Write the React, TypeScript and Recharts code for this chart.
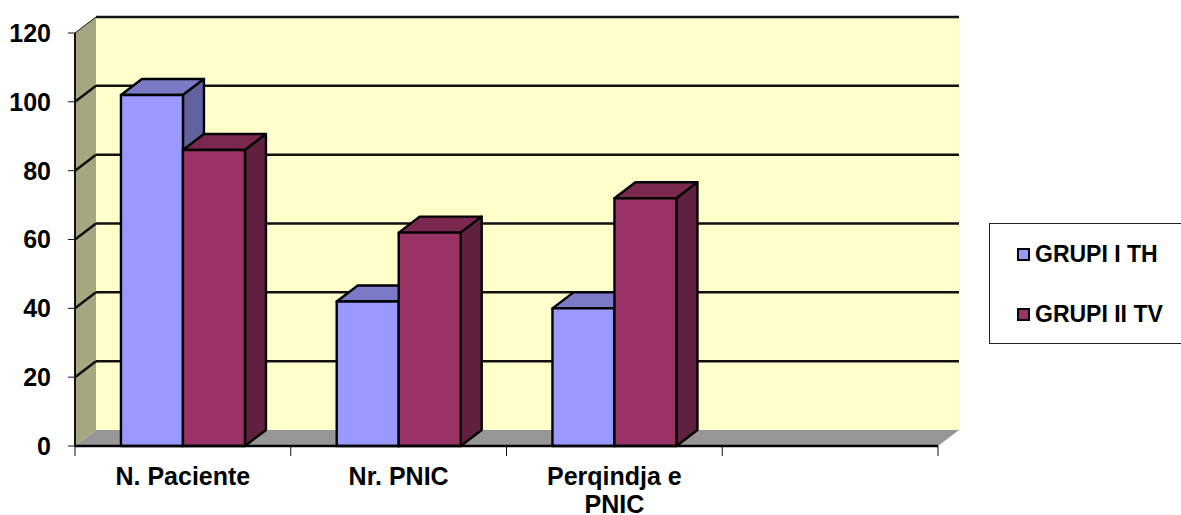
import React from 'react';
import { BarChart, Bar, XAxis, YAxis, CartesianGrid, Legend, ReferenceArea } from 'recharts';

const categories = ['N. Paciente', 'Nr. PNIC', 'Perqindja e PNIC', ''];
const grupiTH = [102, 42, 40, null];
const grupiTV = [86, 62, 72, null];
const yTicks = [0, 20, 40, 60, 80, 100, 120];

const data = categories.map((name, i) => ({ name, th: grupiTH[i], tv: grupiTV[i] }));

const FONT = '"Liberation Sans", Arial, sans-serif';
const DX = 21;
const DY = 16;
const BAND = 215.75;

const pts = (...p: number[][]) => p.map((q) => q.join(',')).join(' ');

// box with a lit top face and a darker side face
const Box3D = ({ x, y, width, height, fill, top, side }: any) => {
  if (!height) return null;
  const r = x + width;
  const b = y + height;
  return (
    <g stroke="#000" strokeWidth={2.4} strokeLinejoin="round">
      <polygon points={pts([x, y], [x + DX, y - DY], [r + DX, y - DY], [r, y])} fill={top} />
      <polygon points={pts([r, y], [r + DX, y - DY], [r + DX, b - DY], [r, b])} fill={side} />
      <rect x={x} y={y} width={width} height={height} fill={fill} />
    </g>
  );
};

// back wall, left wall and floor
const Walls = ({ x, y, width, height }: any) => {
  const r = x + width;
  const b = y + height;
  return (
    <g>
      <polygon points={pts([x + DX, y - DY], [r + DX, y - DY], [r + DX, b - DY], [x + DX, b - DY])} fill="#ffffcc" />
      <polygon points={pts([x, y], [x + DX, y - DY], [x + DX, b - DY], [x, b])} fill="#a6a680" />
      <polygon points={pts([x, b], [x + DX, b - DY], [r + DX, b - DY], [r, b])} fill="#969696" />
    </g>
  );
};

const GridLine = ({ x1, y1, x2, y2, index }: any) => {
  if (y1 >= 440) return <g key={index} />;
  return (
    <g key={index} fill="none">
      <line x1={x1} y1={y1} x2={x1 + DX} y2={y1 - DY} stroke="#111" strokeWidth={y1 < 40 ? 1 : 2.5} />
      <line x1={x1 + DX} y1={y1 - DY} x2={x2 + DX} y2={y2 - DY} stroke="#111" strokeWidth={2.5} />
    </g>
  );
};

const CategoryTick = ({ x, y, payload, index }: any) => {
  const words = String(payload.value);
  const lines = words === 'Perqindja e PNIC' ? ['Perqindja e', 'PNIC'] : [words];
  return (
    <g>
      <line x1={x - BAND / 2} y1={y - 8} x2={x - BAND / 2} y2={y + 2} stroke="#111" strokeWidth={1} />
      {index === categories.length - 1 && (
        <line x1={x + BAND / 2} y1={y - 8} x2={x + BAND / 2} y2={y + 2} stroke="#111" strokeWidth={1} />
      )}
      <text x={x} textAnchor="middle" fontFamily={FONT} fontWeight="bold" fontSize={25} fill="#000">
        {lines.map((l, i) => (
          <tspan key={l} x={x} y={y + 31 + i * 27.5}>
            {l}
          </tspan>
        ))}
      </text>
    </g>
  );
};

const LegendBox = ({ payload }: any) => (
  <div
    style={{
      boxSizing: 'border-box',
      width: 200,
      height: 121,
      background: '#fff',
      border: '1px solid #222',
      fontFamily: FONT,
      fontWeight: 'bold',
      fontSize: 23,
      position: 'relative',
    }}
  >
    {(payload || []).map((p: any, i: number) => (
      <div key={p.value} style={{ position: 'absolute', left: 27, top: 18 + i * 60, display: 'flex', alignItems: 'center', height: 24 }}>
        <span style={{ boxSizing: 'border-box', width: 13, height: 13, background: p.color, border: '2px solid #000', marginRight: 5 }} />
        <span style={{ color: '#000', whiteSpace: 'nowrap' }}>{p.value}</span>
      </div>
    ))}
  </div>
);

export default function App() {
  return (
    <div style={{ position: 'absolute', left: 0, top: 0, width: 1181, height: 515, overflow: 'hidden', background: '#fff' }}>
      <BarChart
        width={1181}
        height={515}
        data={data}
        margin={{ top: 33, right: 243, bottom: 0, left: 15 }}
        barGap={0}
        barCategoryGap="21.3%"
      >
        <ReferenceArea y1={0} y2={120} ifOverflow="visible" shape={<Walls />} zIndex={-200} />
        <CartesianGrid vertical={false} horizontal={(p: any) => <GridLine {...p} />} />
        <XAxis
          dataKey="name"
          height={69}
          interval={0}
          tickLine={false}
          axisLine={{ stroke: '#000', strokeWidth: 2.5 }}
          tick={<CategoryTick />}
        />
        <YAxis
          width={60}
          domain={[0, 120]}
          ticks={yTicks}
          interval={0}
          tickSize={7}
          tickMargin={17}
          axisLine={{ stroke: '#111', strokeWidth: 2 }}
          tickLine={{ stroke: '#111', strokeWidth: 1 }}
          tick={{ fontFamily: FONT, fontWeight: 'bold', fontSize: 25, fill: '#000' }}
        />
        <Bar dataKey="th" name="GRUPI I TH" fill="#9999ff" isAnimationActive={false} shape={<Box3D top="#7a7ac6" side="#6262a0" />} />
        <Bar dataKey="tv" name="GRUPI II TV" fill="#993366" isAnimationActive={false} shape={<Box3D top="#7a2850" side="#602040" />} />
        <Legend
          layout="vertical"
          align="center"
          verticalAlign="middle"
          content={<LegendBox />}
          wrapperStyle={{ left: 989, top: 223, width: 200, height: 121 }}
        />
      </BarChart>
    </div>
  );
}
